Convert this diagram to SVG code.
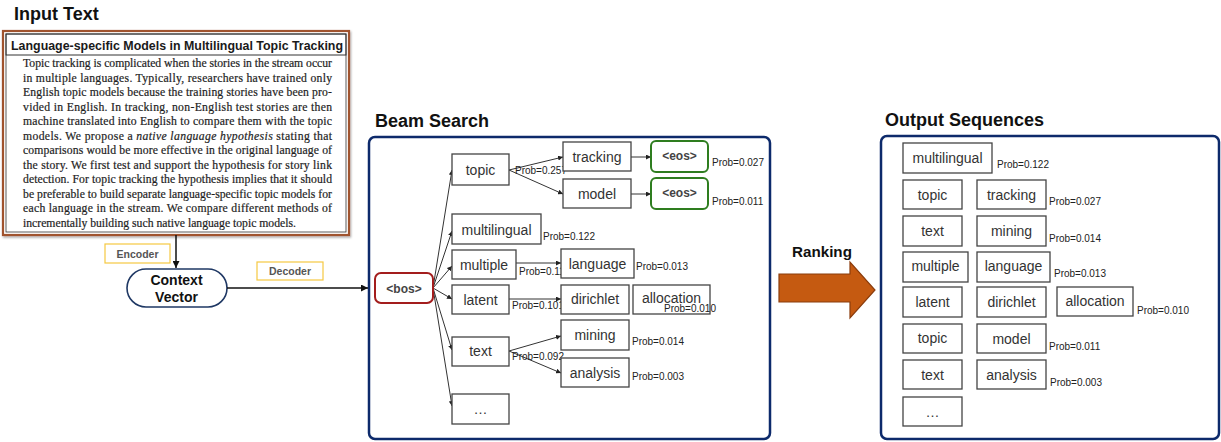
<svg xmlns="http://www.w3.org/2000/svg" width="1221" height="442" viewBox="0 0 1221 442">
  <defs>
    <marker id="tip" viewBox="0 0 6 6" refX="6" refY="3" markerWidth="5" markerHeight="5" orient="auto" markerUnits="userSpaceOnUse">
      <path d="M0,0 L6,3 L0,6 z" fill="#222"/>
    </marker>
    <marker id="tipBig" viewBox="0 0 6 6" refX="6" refY="3" markerWidth="7" markerHeight="7" orient="auto" markerUnits="userSpaceOnUse">
      <path d="M0,0 L6,3 L0,6 z" fill="#111"/>
    </marker>
    <filter id="shadow" x="-5%" y="-5%" width="110%" height="110%">
      <feDropShadow dx="1" dy="1.5" stdDeviation="1" flood-color="#000" flood-opacity="0.35"/>
    </filter>
  </defs>
  <style>
    .title { font-family: "Liberation Sans", Arial, sans-serif; font-weight: bold; font-size: 18px; fill: #111; }
    .body { font-family: "Liberation Serif", "Times New Roman", serif; font-size: 11.7px; fill: #1e1e1e; stroke: #1e1e1e; stroke-width: 0.2; }
    .node { fill: #fff; stroke: #444; stroke-width: 1.3; }
    .word { font-family: "Liberation Sans", Arial, sans-serif; font-size: 14px; fill: #333; text-anchor: middle; }
    .prob { font-family: "Liberation Sans", Arial, sans-serif; font-size: 10px; fill: #222; }
    .tag { font-family: "Liberation Sans", Arial, sans-serif; font-weight: bold; font-size: 10.5px; fill: #555; text-anchor: middle; }
    .eos { fill: #fff; stroke: #2e7d1f; stroke-width: 2; }
    .special { font-family: "Liberation Sans", Arial, sans-serif; font-weight: bold; font-size: 12px; fill: #444; text-anchor: middle; }
    .panel { fill: #fff; stroke: #0d2a6b; stroke-width: 2.5; }
    .edge { stroke: #333; stroke-width: 1; fill: none; marker-end: url(#tip); }
  </style>

  <rect width="1221" height="442" fill="#fff"/>

  <!-- Section headings -->
  <text class="title" x="14" y="20">Input Text</text>
  <text class="title" x="375" y="127">Beam Search</text>
  <text class="title" x="885" y="126">Output Sequences</text>

  <!-- Input document -->
  <g id="input-text">
    <rect x="3" y="31" width="346" height="204" fill="#fff" stroke="#a0522d" stroke-width="2.2" filter="url(#shadow)"/>
    <rect x="6" y="34" width="340" height="198" fill="none" stroke="#333" stroke-width="0.8"/>
    <rect x="6" y="34" width="340" height="21" fill="none" stroke="#333" stroke-width="1"/>
    <text x="11" y="49.5" font-family="Liberation Sans, Arial, sans-serif" font-weight="bold" font-size="12.5px" fill="#1a1a1a" textLength="332" lengthAdjust="spacingAndGlyphs">Language-specific Models in Multilingual Topic Tracking</text>
    <text class="body" x="23" y="67" textLength="309" lengthAdjust="spacing">Topic tracking is complicated when the stories in the stream occur</text>
    <text class="body" x="23" y="81.5" textLength="309" lengthAdjust="spacing">in multiple languages. Typically, researchers have trained only</text>
    <text class="body" x="23" y="96" textLength="309" lengthAdjust="spacing">English topic models because the training stories have been pro-</text>
    <text class="body" x="23" y="110.5" textLength="309" lengthAdjust="spacing">vided in English. In tracking, non-English test stories are then</text>
    <text class="body" x="23" y="125" textLength="309" lengthAdjust="spacing">machine translated into English to compare them with the topic</text>
    <text class="body" x="23" y="139.5" textLength="309" lengthAdjust="spacing">models. We propose a <tspan font-style="italic">native language hypothesis</tspan> stating that</text>
    <text class="body" x="23" y="154" textLength="309" lengthAdjust="spacing">comparisons would be more effective in the original language of</text>
    <text class="body" x="23" y="168.5" textLength="309" lengthAdjust="spacing">the story. We first test and support the hypothesis for story link</text>
    <text class="body" x="23" y="183" textLength="309" lengthAdjust="spacing">detection. For topic tracking the hypothesis implies that it should</text>
    <text class="body" x="23" y="197.5" textLength="309" lengthAdjust="spacing">be preferable to build separate language-specific topic models for</text>
    <text class="body" x="23" y="212" textLength="309" lengthAdjust="spacing">each language in the stream. We compare different methods of</text>
    <text class="body" x="23" y="226.5">incrementally building such native language topic models.</text>
  </g>

  <!-- Encoder / decoder labels -->
  <g id="encoder-label">
    <rect x="105" y="244" width="65" height="19" fill="#fff" stroke="#f5c842" stroke-width="1.2"/>
    <text class="tag" x="137.5" y="257.5">Encoder</text>
  </g>
  <g id="decoder-label">
    <rect x="257" y="262" width="66" height="18" fill="#fff" stroke="#f5c842" stroke-width="1.2"/>
    <text class="tag" x="290" y="275">Decoder</text>
  </g>

  <!-- Context vector -->
  <g id="context-vector">
    <rect x="127" y="269" width="100" height="38" rx="19" ry="19" fill="#fff" stroke="#1f3864" stroke-width="1.6"/>
    <text x="176.5" y="285" font-family="Liberation Sans, Arial, sans-serif" font-weight="bold" font-size="14px" fill="#111" text-anchor="middle">Context</text>
    <text x="176.5" y="302" font-family="Liberation Sans, Arial, sans-serif" font-weight="bold" font-size="14px" fill="#111" text-anchor="middle">Vector</text>
  </g>

  <!-- Panels -->
  <rect id="beam-panel" class="panel" x="369" y="137" width="401" height="302" rx="6" ry="6"/>
  <rect id="output-panel" class="panel" x="881" y="136" width="338" height="303" rx="6" ry="6"/>

  <!-- Connectors -->
  <g id="connectors">
    <line x1="176" y1="235" x2="176" y2="268" stroke="#111" stroke-width="1.5" marker-end="url(#tipBig)"/>
    <line x1="227" y1="288" x2="368" y2="288" stroke="#111" stroke-width="1.3" marker-end="url(#tipBig)"/>
    <line class="edge" x1="433" y1="288" x2="452" y2="170"/>
    <line class="edge" x1="433" y1="288" x2="452" y2="231"/>
    <line class="edge" x1="433" y1="288" x2="452" y2="266"/>
    <line class="edge" x1="433" y1="288" x2="452" y2="299"/>
    <line class="edge" x1="433" y1="288" x2="452" y2="350"/>
    <line class="edge" x1="433" y1="288" x2="452" y2="406"/>
    <line class="edge" x1="509" y1="170" x2="563" y2="157"/>
    <line class="edge" x1="509" y1="170" x2="563" y2="194"/>
    <line class="edge" x1="631" y1="157" x2="651" y2="157"/>
    <line class="edge" x1="631" y1="194" x2="651" y2="194"/>
    <line class="edge" x1="516" y1="263" x2="561" y2="263"/>
    <line class="edge" x1="509" y1="299" x2="561" y2="299"/>
    <line class="edge" x1="509" y1="351" x2="561" y2="336"/>
    <line class="edge" x1="509" y1="351" x2="561" y2="373"/>
  </g>

  <!-- Beam search nodes -->
  <g id="bos">
    <rect x="375" y="273" width="58" height="30" rx="6" ry="6" fill="#fff" stroke="#a31d1d" stroke-width="2"/>
    <text class="special" x="404" y="292.5">&lt;bos&gt;</text>
  </g>
  <text class="prob" x="515" y="174">Prob=0.257</text>
  <text class="prob" x="519" y="275">Prob=0.11</text>
  <text class="prob" x="512" y="309">Prob=0.101</text>
  <text class="prob" x="512" y="360">Prob=0.092</text>
  <g id="beam-topic"><rect class="node" x="452" y="154" width="57" height="31"/><text class="word" x="480.5" y="175">topic</text></g>
  <g id="beam-tracking"><rect class="node" x="563" y="142" width="68" height="29"/><text class="word" x="597" y="162">tracking</text></g>
  <g id="beam-model"><rect class="node" x="563" y="179" width="68" height="29"/><text class="word" x="597" y="199">model</text></g>
  <g id="beam-eos-1"><rect class="eos" x="651" y="141" width="57" height="31" rx="5" ry="5"/><text class="special" x="679.5" y="160">&lt;eos&gt;</text></g>
  <g id="beam-eos-2"><rect class="eos" x="651" y="178" width="57" height="31" rx="5" ry="5"/><text class="special" x="679.5" y="197">&lt;eos&gt;</text></g>
  <text class="prob" x="712" y="166">Prob=0.027</text>
  <text class="prob" x="712" y="205">Prob=0.011</text>
  <g id="beam-multilingual"><rect class="node" x="452" y="214" width="89" height="30"/><text class="word" x="496.5" y="235">multilingual</text></g>
  <text class="prob" x="543" y="240">Prob=0.122</text>
  <g id="beam-multiple"><rect class="node" x="452" y="250" width="64" height="29"/><text class="word" x="484" y="270">multiple</text></g>
  <g id="beam-language"><rect class="node" x="561" y="249" width="73" height="29"/><text class="word" x="597.5" y="269">language</text></g>
  <text class="prob" x="636" y="270">Prob=0.013</text>
  <g id="beam-latent"><rect class="node" x="452" y="285" width="57" height="29"/><text class="word" x="480.5" y="305">latent</text></g>
  <g id="beam-dirichlet"><rect class="node" x="561" y="285" width="68" height="29"/><text class="word" x="595" y="304">dirichlet</text></g>
  <g id="beam-allocation"><rect class="node" x="633" y="285" width="77" height="29"/><text class="word" x="671.5" y="303">allocation</text></g>
  <text class="prob" x="664" y="312">Prob=0.010</text>
  <g id="beam-text"><rect class="node" x="452" y="337" width="57" height="29"/><text class="word" x="480.5" y="356">text</text></g>
  <g id="beam-mining"><rect class="node" x="561" y="320" width="68" height="30"/><text class="word" x="595" y="340">mining</text></g>
  <g id="beam-analysis"><rect class="node" x="561" y="358" width="68" height="29"/><text class="word" x="595" y="378">analysis</text></g>
  <text class="prob" x="632" y="345">Prob=0.014</text>
  <text class="prob" x="632" y="380">Prob=0.003</text>
  <g id="beam-more"><rect class="node" x="452" y="394" width="57" height="30"/><text class="word" x="480.5" y="414">…</text></g>

  <!-- Ranking arrow -->
  <g id="ranking">
    <text x="792" y="257" font-family="Liberation Sans, Arial, sans-serif" font-weight="bold" font-size="15.2px" fill="#111">Ranking</text>
    <path d="M779,274 L850,274 L850,262 L875,290 L850,318 L850,302 L779,302 Z" fill="#c55a11" stroke="#8a3c0c" stroke-width="1.2"/>
  </g>

  <!-- Output sequences -->
  <g id="out-row-1">
    <rect class="node" x="903" y="143" width="89" height="30"/><text class="word" x="947.5" y="163">multilingual</text>
    <text class="prob" x="997" y="168">Prob=0.122</text>
  </g>
  <g id="out-row-2">
    <rect class="node" x="903" y="180" width="59" height="29"/><text class="word" x="932.5" y="200">topic</text>
    <rect class="node" x="977" y="180" width="69" height="29"/><text class="word" x="1011.5" y="200">tracking</text>
    <text class="prob" x="1049" y="205">Prob=0.027</text>
  </g>
  <g id="out-row-3">
    <rect class="node" x="903" y="216" width="59" height="30"/><text class="word" x="932.5" y="236">text</text>
    <rect class="node" x="977" y="216" width="69" height="30"/><text class="word" x="1011.5" y="236">mining</text>
    <text class="prob" x="1049" y="242">Prob=0.014</text>
  </g>
  <g id="out-row-4">
    <rect class="node" x="903" y="252" width="65" height="30"/><text class="word" x="935.5" y="271">multiple</text>
    <rect class="node" x="977" y="252" width="73" height="30"/><text class="word" x="1013.5" y="271">language</text>
    <text class="prob" x="1054" y="277">Prob=0.013</text>
  </g>
  <g id="out-row-5">
    <rect class="node" x="903" y="287" width="59" height="30"/><text class="word" x="932.5" y="307">latent</text>
    <rect class="node" x="977" y="287" width="69" height="30"/><text class="word" x="1011.5" y="307">dirichlet</text>
    <rect class="node" x="1057" y="287" width="76" height="29"/><text class="word" x="1095" y="306">allocation</text>
    <text class="prob" x="1137" y="314">Prob=0.010</text>
  </g>
  <g id="out-row-6">
    <rect class="node" x="903" y="324" width="59" height="29"/><text class="word" x="932.5" y="343">topic</text>
    <rect class="node" x="977" y="324" width="69" height="29"/><text class="word" x="1011.5" y="344">model</text>
    <text class="prob" x="1049" y="350">Prob=0.011</text>
  </g>
  <g id="out-row-7">
    <rect class="node" x="903" y="360" width="59" height="29"/><text class="word" x="932.5" y="380">text</text>
    <rect class="node" x="977" y="360" width="69" height="29"/><text class="word" x="1011.5" y="380">analysis</text>
    <text class="prob" x="1050" y="386">Prob=0.003</text>
  </g>
  <g id="out-row-8">
    <rect class="node" x="903" y="397" width="59" height="29"/><text class="word" x="932.5" y="417">…</text>
  </g>
</svg>
